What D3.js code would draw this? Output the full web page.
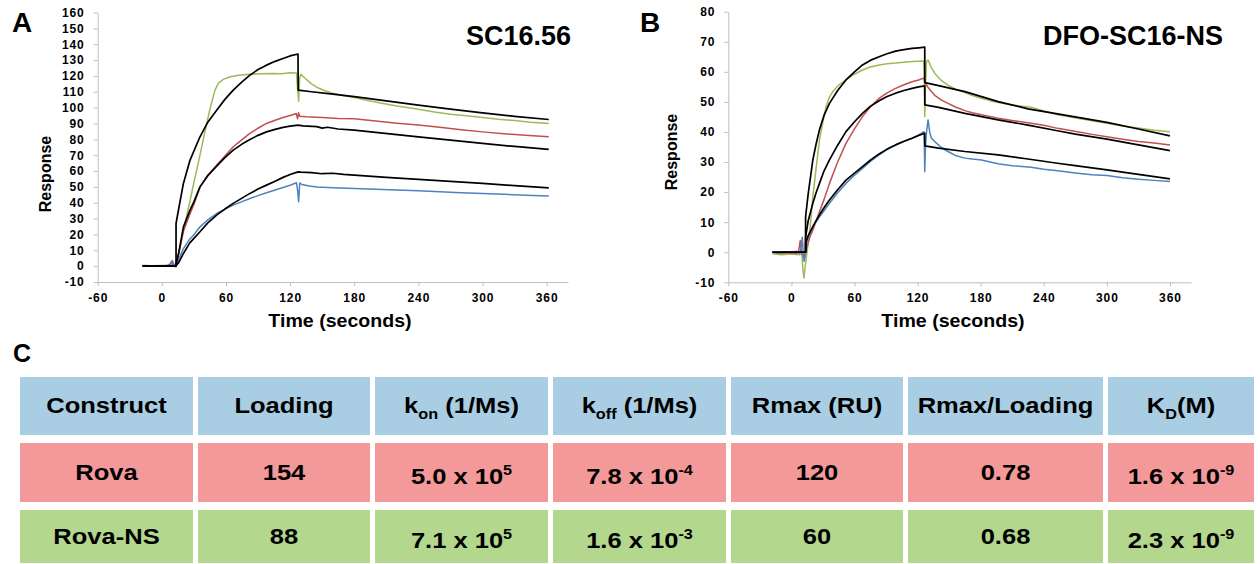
<!DOCTYPE html>
<html>
<head>
<meta charset="utf-8">
<script src="https://cdn.jsdelivr.net/npm/d3@7"></script>
<style>
  body { margin: 0; background: #fff; }
  svg text { font-family: Arial, 'Liberation Sans', sans-serif; font-weight: bold; fill: #000; }
</style>
</head>
<body>
<svg id="fig" width="1260" height="564"></svg>
<script>
// ---- panel A : SC16.56 (time s, response RU) ----
const aGreen = [[-18,0.5],[-10,0.3],[0,0.4],[8,0.2],[11,0],[13,-0.5],[16,8],[20,21.7],[25,37],[30,52.7],[35,68],[40,83.7],[45,99],[49.7,111],[53,115.5],[57.5,117.8],[64,119.5],[72,120.4],[82,121],[92,121.3],[104,121.5],[112,121.4],[120,122],[126,121.8],[127,112],[128,104],[129,119],[130,121],[134,118.5],[140,115],[146,112.5],[152,110.8],[160,109],[170,107.5],[180,106.4],[195,104.2],[207,102.6],[220,101],[240,99],[255,97.3],[270,95.8],[285,94.8],[300,93.8],[315,92.6],[330,91.8],[345,90.8],[362,90]];
const aRed = [[-18,0.3],[-5,0.2],[5,0.3],[8,1.5],[9,3],[10,0.5],[12,0],[15,6],[20.2,22],[26.4,33],[30,39],[35.7,50],[43,57.5],[51.3,63.7],[59,69.5],[66.8,75.3],[75,79.8],[82.4,83.7],[90,87],[97.9,90],[106,92],[113.4,93.8],[120,95],[125.8,96.3],[127,93],[128,96.8],[129,94.5],[135,94.2],[150,93.8],[165,93.2],[180,93],[200,91.6],[220,90.2],[240,89],[260,87.6],[280,86],[300,84.7],[320,83.5],[340,82.6],[362,81.6]];
const aBlue = [[-18,0],[0,0.2],[8,0.5],[10,3.5],[11,1],[13,0],[16,4.5],[20.2,11.1],[26,17],[30,19.8],[35.7,24.8],[43,29.2],[51.3,33.2],[59,36],[66.8,38.5],[75,40.7],[82.4,42.7],[90,44.5],[97.9,46.3],[106,48],[113.4,49.6],[120,51],[126,52.6],[127,48],[128,40.6],[129,52.5],[131,51.5],[138,50.5],[145,50],[160,49.5],[180,49],[200,48.5],[220,48],[240,47.5],[260,47],[280,46.3],[300,45.8],[320,45.3],[340,44.8],[362,44.2]];
const aFitTop = [[-18,0],[13.3,0],[13.3,26.9],[16,37],[20.2,52.2],[26.4,66.9],[35.7,81.6],[43,90.8],[51.3,98.4],[59,105.2],[66.8,111],[75,116.2],[82.4,120.5],[90,124],[97.9,126.8],[106,129.2],[113.4,131],[120,132.6],[127.4,133.8],[127.6,111],[140,110],[160,108.5],[180,106.9],[210,104.2],[240,101.6],[270,99.1],[300,96.7],[330,94.5],[362,92.5]];
const aFitMid = [[-18,0],[13,0],[16,9],[20.2,24.8],[26.4,35.3],[30,40.5],[35.7,50],[43,57],[51.3,63.1],[59,68.5],[66.8,73.2],[75,77],[82.4,79.9],[90,82.5],[97.9,84.7],[106,86.3],[113.4,87.5],[120,88.3],[127.5,89],[132,88.5],[145,88],[150,87.1],[155,87.6],[165,86.5],[180,85.8],[200,84.4],[220,83],[240,81.6],[270,79.5],[300,77.4],[330,75.5],[362,73.6]];
const aFitLow = [[-18,0],[13,0],[16,2.5],[20.2,8],[26,14.5],[30,17.5],[35.7,21.7],[43,27.3],[51.3,32.2],[59,36],[66.8,39.6],[75,42.9],[82.4,45.9],[90,48.6],[97.9,51.1],[106,53.6],[113.4,56],[120,57.8],[127.5,59.5],[130,59.3],[140,59],[150,58.3],[160,58.6],[170,57.9],[180,57.4],[210,56],[240,54.7],[270,53.5],[300,52.2],[330,50.8],[362,49.4]];

// ---- panel B : DFO-SC16-NS ----
const bGreen = [[-18,-0.5],[-10,-0.8],[0,-0.6],[8,-0.8],[10,-0.5],[11,-6],[12,-8.6],[13,-5],[14.5,-1],[16,3],[18,9],[20.4,18.5],[23.5,28],[26.7,37.3],[30,43.5],[33,48.4],[36,51.5],[39.3,53.4],[45,55.6],[51.9,57.3],[60,59.2],[67.6,60.6],[75,61.6],[83.4,62.3],[91,62.7],[99.1,62.9],[107,63.2],[114.8,63.4],[121,63.5],[125.8,63.6],[126.5,55],[126.8,45.1],[127.5,55],[128.5,63.5],[130,63.9],[133,61.5],[136.3,59.5],[142,57.3],[148.9,55.6],[156,54.2],[165,53.1],[172,52.1],[180.7,51.2],[188,50.5],[196.6,49.8],[210,49],[228,48.2],[240,47],[253.3,45.7],[272,44.6],[286,43.7],[300,42.9],[315,42],[330,41.3],[345,40.6],[360,40.1]];
const bRed = [[-18,0],[-10,-0.3],[0,-0.2],[5,-0.5],[7,0.5],[8,3],[8.5,3.9],[9.5,0],[10.5,-1],[12,-2],[13,-0.5],[15,2],[17.5,5],[20.4,7.4],[26.7,13.5],[31,17.5],[36.2,22.9],[44,30],[51.9,36.2],[60,41],[67.6,45.1],[75,48.3],[83.4,51.2],[91,53],[99.1,54.5],[107,55.7],[114.8,56.7],[121,57.3],[125.5,57.9],[126.8,57],[128,56],[130,54.8],[133.3,53.4],[137,52],[142.7,50.6],[148.9,49.5],[156,48.3],[165,47.1],[172,46.4],[180.7,45.7],[196.6,44.6],[210,43.8],[228,42.9],[240,42.2],[253.3,41.2],[272,40.1],[286,39.2],[300,38.4],[315,37.6],[330,36.8],[345,36.3],[360,35.7]];
const bBlue = [[-18,0],[-12,-0.3],[-5,0.2],[0,0],[5,0.3],[8,-0.5],[9.5,2],[10.4,5],[11,1],[12,-3],[13,-1.5],[14,2],[15.5,5],[17.3,6],[20.4,8.5],[23.5,10],[26.7,11.8],[31,13.8],[36.2,16.3],[44,19.8],[51.9,22.9],[60,25.6],[67.6,27.9],[75,30.2],[83.4,32.4],[91,34.1],[99.1,35.7],[107,36.8],[114.8,37.9],[121,39],[126,40.1],[126.5,34],[126.8,26.8],[127.5,35],[128.5,40],[130,44],[131.5,40],[133,38],[136.3,36.8],[142,35],[148.9,33.5],[156,32.2],[165,31.3],[172,31],[180.7,30.7],[196.6,29.4],[210,28.8],[228,28.3],[240,27.6],[253.3,27.1],[272,26.3],[286,25.8],[300,25.5],[315,24.8],[330,24.3],[345,23.9],[360,23.5]];
const bFitTop = [[-18,0],[13.5,0],[13.5,11.8],[16,19.5],[20.4,30.7],[23.5,36],[26.7,40.7],[31,45.5],[36.2,49.5],[44,53.8],[51.9,57.3],[60,60],[67.6,62.3],[75,63.8],[83.4,65],[91,66],[99.1,66.9],[107,67.4],[114.8,67.8],[121,68],[126.8,68.2],[126.9,56.4],[140,55.4],[165,53.4],[196.6,50.1],[225,47.7],[253,46],[300,43.2],[330,41],[360,38.7]];
const bFitMid = [[-18,0],[13.5,0],[13.5,5],[16,10.5],[20.4,16.3],[23.5,19.8],[26.7,22.9],[31,27],[36.2,30.7],[44,35.6],[51.9,40.1],[60,43.4],[67.6,46.2],[75,48.5],[83.4,50.4],[91,51.8],[99.1,52.9],[107,53.8],[114.8,54.5],[121,55],[126.8,55.3],[126.9,49],[140,48.2],[165,46.2],[196.6,44],[225,42.3],[253,40.4],[270,39.3],[300,37.6],[330,35.7],[360,33.8]];
const bFitLow = [[-18,0],[13.5,0],[13.5,3],[16,5.5],[20.4,8.5],[23.5,10.5],[26.7,12.4],[31,14.8],[36.2,17.4],[44,20.8],[51.9,24],[60,26.3],[67.6,28.5],[75,30.6],[83.4,32.7],[91,34.3],[99.1,35.7],[107,36.9],[114.8,37.9],[121,38.8],[126.8,39.6],[126.9,35.4],[140,34.6],[165,33.5],[196.6,32.4],[225,31],[253,29.6],[270,28.8],[300,27.4],[330,25.9],[360,24.4]];

// ---- ticks ----
const timeTicks = [-60, 0, 60, 120, 180, 240, 300, 360];
const aYTicks = [-10, 0, 10, 20, 30, 40, 50, 60, 70, 80, 90, 100, 110, 120, 130, 140, 150, 160];
const bYTicks = [-10, 0, 10, 20, 30, 40, 50, 60, 70, 80];

// ---- table C ----
const headers = [
  [{t: 'Construct'}],
  [{t: 'Loading'}],
  [{t: 'k'}, {t: 'on', sub: true}, {t: ' (1/Ms)'}],
  [{t: 'k'}, {t: 'off', sub: true}, {t: ' (1/Ms)'}],
  [{t: 'Rmax (RU)'}],
  [{t: 'Rmax/Loading'}],
  [{t: 'K'}, {t: 'D', sub: true}, {t: '(M)'}]
];
const constructs = ['Rova', 'Rova-NS'];
const loading    = ['154', '88'];
const kon        = [['5.0', '5'], ['7.1', '5']];
const koff       = [['7.8', '-4'], ['1.6', '-3']];
const rmax       = ['120', '60'];
const rmaxLoad   = ['0.78', '0.68'];
const kd         = [['1.6', '-9'], ['2.3', '-9']];

const svg = d3.select('#fig');

function drawPanel(p) {
  const g = svg.append('g');
  const x = d3.scaleLinear().domain([-60, 380]).range(p.xr);
  const y = d3.scaleLinear().domain(p.yd).range(p.yr);

  const gx = g.append('g')
    .attr('transform', `translate(0, ${y(p.yd[0])})`)
    .call(d3.axisBottom(x).tickValues(timeTicks).tickSize(4).tickSizeOuter(0).tickPadding(7).tickFormat(d => String(d)));
  const gy = g.append('g')
    .attr('transform', `translate(${p.xr[0]}, 0)`)
    .call(d3.axisLeft(y).tickValues(p.yTicks).tickSize(4).tickSizeOuter(0).tickPadding(9).tickFormat(d => String(d)));
  [gx, gy].forEach(a => {
    a.select('.domain').attr('stroke', '#bfbfbf');
    a.selectAll('.tick line').attr('stroke', '#bfbfbf');
    a.selectAll('text').attr('font-size', 12).style('letter-spacing', '0.9px');
  });

  const line = d3.line().x(d => x(d[0])).y(d => y(d[1]));
  p.series.forEach(s => {
    g.append('path')
      .datum(s.data)
      .attr('fill', 'none')
      .attr('stroke', s.color)
      .attr('stroke-width', s.w)
      .attr('stroke-linejoin', 'round')
      .attr('d', line);
  });

  g.append('text').attr('x', p.letterX).attr('y', 32).attr('font-size', 28).text(p.letter);
  g.append('text').attr('x', p.titleX).attr('y', 45).attr('font-size', 27)
    .attr('text-anchor', 'end').text(p.title);
  g.append('text')
    .attr('transform', `translate(${p.respX}, ${p.respY}) rotate(-90)`)
    .attr('text-anchor', 'middle').attr('font-size', 16).text('Response');
  g.append('text')
    .attr('transform', `translate(${p.timeX}, 327) scale(1.12, 1)`)
    .attr('text-anchor', 'middle').attr('font-size', 17.5).text('Time (seconds)');
}

const cGreen = '#9bbb59', cRed = '#c0504d', cBlue = '#4f81bd';

drawPanel({
  xr: [97.7, 568], yd: [-10, 160], yr: [282, 12.5], yTicks: aYTicks,
  letter: 'A', letterX: 12, title: 'SC16.56', titleX: 571,
  respX: 51, respY: 174, timeX: 340,
  series: [
    {data: aGreen, color: cGreen, w: 1.5},
    {data: aRed, color: cRed, w: 1.5},
    {data: aBlue, color: cBlue, w: 1.5},
    {data: aFitTop, color: '#000', w: 1.7},
    {data: aFitMid, color: '#000', w: 1.7},
    {data: aFitLow, color: '#000', w: 1.7}
  ]
});

drawPanel({
  xr: [728.3, 1191], yd: [-10, 80], yr: [282.3, 11.7], yTicks: bYTicks,
  letter: 'B', letterX: 640, title: 'DFO-SC16-NS', titleX: 1223,
  respX: 677, respY: 152, timeX: 953,
  series: [
    {data: bGreen, color: cGreen, w: 1.5},
    {data: bRed, color: cRed, w: 1.5},
    {data: bBlue, color: cBlue, w: 1.5},
    {data: bFitTop, color: '#000', w: 1.7},
    {data: bFitMid, color: '#000', w: 1.7},
    {data: bFitLow, color: '#000', w: 1.7}
  ]
});

// ---- table ----
svg.append('text').attr('x', 13).attr('y', 362).attr('font-size', 25).text('C');

const colEdges = [20, 198, 375, 553, 731, 908, 1108, 1259];
const rowTops = [377, 443, 510];
const rowBottoms = [435, 502, 563];
const rowFills = ['#a9cee3', '#f49999', '#b3d78d'];
const gap = 5;

function sci(v) { return [{t: v[0] + ' x 10'}, {t: v[1], sup: true}]; }

const rows = [headers].concat(constructs.map((c, i) => [
  [{t: c}], [{t: loading[i]}], sci(kon[i]), sci(koff[i]),
  [{t: rmax[i]}], [{t: rmaxLoad[i]}], sci(kd[i])
]));

const tbl = svg.append('g');
rows.forEach((row, r) => {
  row.forEach((parts, c) => {
    const x0 = colEdges[c], x1 = colEdges[c + 1] - gap;
    tbl.append('rect')
      .attr('x', x0).attr('y', rowTops[r])
      .attr('width', x1 - x0).attr('height', rowBottoms[r] - rowTops[r])
      .attr('fill', rowFills[r]);
    const hasSup = parts.some(p => p.sup);
    const base = r === 0 ? 413 : (rowTops[r] + rowBottoms[r]) / 2 + 7 + (hasSup ? 4 : 0);
    const t = tbl.append('text')
      .attr('transform', `translate(${(x0 + x1) / 2}, ${base}) scale(1.16, 1)`)
      .attr('text-anchor', 'middle')
      .attr('font-size', 22);
    let shift = 0;
    parts.forEach(p => {
      const target = p.sub ? 6 : p.sup ? -9 : 0;
      t.append('tspan')
        .attr('dy', target - shift)
        .attr('font-size', p.sub || p.sup ? 14 : 22)
        .text(p.t);
      shift = target;
    });
  });
});
</script>
</body>
</html>
